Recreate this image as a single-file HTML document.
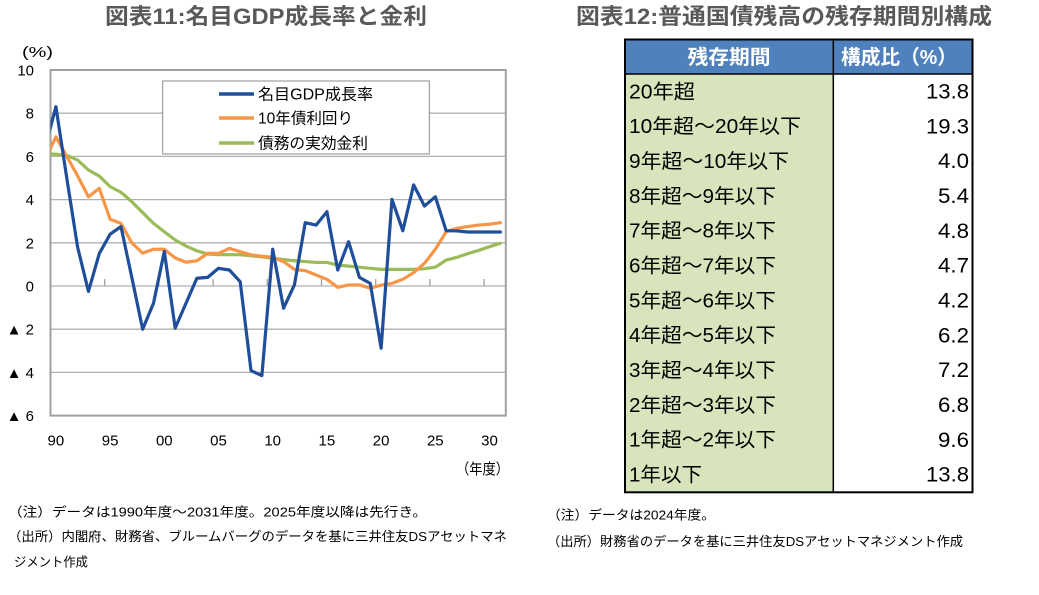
<!DOCTYPE html>
<html>
<head>
<meta charset="utf-8">
<style>
  html,body{margin:0;padding:0;background:#fff;}
  body{width:1039px;height:595px;overflow:hidden;}
  svg{display:block;}
  text{font-family:"Liberation Sans","Noto Sans CJK JP",sans-serif;}
</style>
</head>
<body>
<svg width="1039" height="595" viewBox="0 0 1039 595" xmlns="http://www.w3.org/2000/svg">
  <defs>
    <clipPath id="plotclip"><rect x="50.5" y="69" width="455.3" height="348"/></clipPath>
  </defs>

  <!-- Titles -->
  <text x="105" y="24" font-size="22" font-weight="bold" fill="#595959" textLength="322" lengthAdjust="spacingAndGlyphs">図表11:名目GDP成長率と金利</text>
  <text x="576" y="24" font-size="22" font-weight="bold" fill="#595959" textLength="416" lengthAdjust="spacingAndGlyphs">図表12:普通国債残高の残存期間別構成</text>

  <!-- Gridlines -->
  <g stroke="#B0B0B0" stroke-width="1.3">
    <line x1="50.5" y1="113.2" x2="505.8" y2="113.2"/>
    <line x1="50.5" y1="156.4" x2="505.8" y2="156.4"/>
    <line x1="50.5" y1="199.6" x2="505.8" y2="199.6"/>
    <line x1="50.5" y1="242.8" x2="505.8" y2="242.8"/>
    <line x1="50.5" y1="286" x2="505.8" y2="286"/>
    <line x1="50.5" y1="329.2" x2="505.8" y2="329.2"/>
    <line x1="50.5" y1="372.4" x2="505.8" y2="372.4"/>
  </g>
  <!-- ticks -->
  <g stroke="#A0A0A0" stroke-width="1.3">
    <line x1="104.7" y1="279" x2="104.7" y2="286"/>
    <line x1="158.9" y1="279" x2="158.9" y2="286"/>
    <line x1="213.1" y1="279" x2="213.1" y2="286"/>
    <line x1="267.3" y1="279" x2="267.3" y2="286"/>
    <line x1="321.5" y1="279" x2="321.5" y2="286"/>
    <line x1="375.7" y1="279" x2="375.7" y2="286"/>
    <line x1="429.9" y1="279" x2="429.9" y2="286"/>
    <line x1="484.1" y1="279" x2="484.1" y2="286"/>
  </g>
  <!-- Plot border -->
  <rect x="50.5" y="70" width="455.3" height="345.6" fill="none" stroke="#A0A0A0" stroke-width="2"/>

  <!-- Legend -->
  <rect x="162.7" y="81" width="266.6" height="73" fill="#fff" stroke="#8C8C8C" stroke-width="1"/>
  <line x1="219" y1="94" x2="254" y2="94" stroke="#1F4E9A" stroke-width="3.5"/>
  <line x1="219" y1="118" x2="254" y2="118" stroke="#F79646" stroke-width="3.5"/>
  <line x1="219" y1="143" x2="254" y2="143" stroke="#9BBB59" stroke-width="3.5"/>
  <text x="258" y="99.5" font-size="15.5" fill="#000" textLength="115" lengthAdjust="spacingAndGlyphs">名目GDP成長率</text>
  <text x="258" y="123.5" font-size="15.5" fill="#000" textLength="95" lengthAdjust="spacingAndGlyphs">10年債利回り</text>
  <text x="258" y="148.5" font-size="15.5" fill="#000" textLength="110" lengthAdjust="spacingAndGlyphs">債務の実効金利</text>

  <!-- Series -->
  <g clip-path="url(#plotclip)">
    <g transform="translate(50.5,286) scale(10.84,-21.6)" fill="none" stroke-linejoin="round" stroke-linecap="round">
      <polyline vector-effect="non-scaling-stroke" stroke="#9BBB59" stroke-width="3.2" points="-0.5,6.12 0.5,6.1 1.5,6.05 2.5,5.83 3.5,5.37 4.5,5.09 5.5,4.6 6.5,4.34 7.5,3.9 8.5,3.4 9.5,2.9 10.5,2.51 11.5,2.13 12.5,1.85 13.5,1.63 14.5,1.48 15.5,1.45 16.5,1.45 17.5,1.45 18.5,1.4 19.5,1.35 20.5,1.28 21.5,1.22 22.5,1.17 23.5,1.13 24.5,1.09 25.5,1.09 26.5,0.97 27.5,0.92 28.5,0.87 29.5,0.82 30.5,0.77 31.5,0.77 32.5,0.77 33.5,0.77 34.5,0.8 35.5,0.87 36.5,1.2 37.5,1.33 38.5,1.5 39.5,1.65 40.5,1.82 41.5,1.98"/>
      <polyline vector-effect="non-scaling-stroke" stroke="#F79646" stroke-width="3.2" points="-0.5,5.85 0.5,6.9 1.5,6.0 2.5,5.1 3.5,4.13 4.5,4.52 5.5,3.09 6.5,2.9 7.5,2.0 8.5,1.52 9.5,1.7 10.5,1.7 11.5,1.3 12.5,1.1 13.5,1.17 14.5,1.51 15.5,1.51 16.5,1.74 17.5,1.59 18.5,1.44 19.5,1.38 20.5,1.33 21.5,1.13 22.5,0.77 23.5,0.71 24.5,0.51 25.5,0.31 26.5,-0.06 27.5,0.05 28.5,0.05 29.5,-0.1 30.5,0.04 31.5,0.12 32.5,0.31 33.5,0.62 34.5,1.05 35.5,1.7 36.5,2.51 37.5,2.67 38.5,2.75 39.5,2.82 40.5,2.86 41.5,2.93"/>
      <polyline vector-effect="non-scaling-stroke" stroke="#1F4E9A" stroke-width="3.2" points="-0.5,6.4 0.5,8.3 1.5,5.0 2.5,1.8 3.5,-0.25 4.5,1.5 5.5,2.4 6.5,2.75 7.5,0.4 8.5,-2.0 9.5,-0.8 10.5,1.6 11.5,-1.95 12.5,-0.8 13.5,0.36 14.5,0.4 15.5,0.82 16.5,0.74 17.5,0.2 18.5,-3.92 19.5,-4.15 20.5,1.7 21.5,-1.03 22.5,0.05 23.5,2.93 24.5,2.82 25.5,3.44 26.5,0.74 27.5,2.05 28.5,0.4 29.5,0.12 30.5,-2.88 31.5,4.01 32.5,2.56 33.5,4.68 34.5,3.7 35.5,4.13 36.5,2.56 37.5,2.55 38.5,2.5 39.5,2.5 40.5,2.5 41.5,2.5"/>
    </g>
  </g>

  <!-- Y axis labels -->
  <g font-size="15" fill="#000" text-anchor="end">
    <text x="34" y="75.5">10</text>
    <text x="34" y="118.7">8</text>
    <text x="34" y="161.9">6</text>
    <text x="34" y="205.1">4</text>
    <text x="34" y="248.3">2</text>
    <text x="34" y="291.5">0</text>
    <text x="34" y="334.7">▲ 2</text>
    <text x="34" y="377.9">▲ 4</text>
    <text x="34" y="421.1">▲ 6</text>
  </g>
  <text x="22" y="57" font-size="15" fill="#000" textLength="31" lengthAdjust="spacingAndGlyphs">(%)</text>

  <!-- X axis labels -->
  <g font-size="15" fill="#000" text-anchor="middle">
    <text x="55.9" y="445.5">90</text>
    <text x="110.1" y="445.5">95</text>
    <text x="164.3" y="445.5">00</text>
    <text x="218.5" y="445.5">05</text>
    <text x="272.7" y="445.5">10</text>
    <text x="326.9" y="445.5">15</text>
    <text x="381.1" y="445.5">20</text>
    <text x="435.3" y="445.5">25</text>
    <text x="489.5" y="445.5">30</text>
  </g>
  <text x="456" y="474" font-size="15" fill="#000" textLength="53" lengthAdjust="spacingAndGlyphs">（年度）</text>

  <!-- Left notes -->
  <g font-size="13" fill="#000">
    <text x="8" y="516.5" textLength="419" lengthAdjust="spacingAndGlyphs">（注）データは1990年度～2031年度。2025年度以降は先行き。</text>
    <text x="8" y="541" textLength="499" lengthAdjust="spacingAndGlyphs">（出所）内閣府、財務省、ブルームバーグのデータを基に三井住友DSアセットマネ</text>
    <text x="14" y="566.5" textLength="74" lengthAdjust="spacingAndGlyphs">ジメント作成</text>
  </g>

  <!-- Table -->
  <rect x="625" y="40" width="208.3" height="34" fill="#4F81BD"/>
  <rect x="833.3" y="40" width="139.2" height="34" fill="#4F81BD"/>
  <rect x="625" y="74" width="208.3" height="418.3" fill="#D8E4BC"/>
  <rect x="833.3" y="74" width="139.2" height="418.3" fill="#FFFFFF"/>
  <g stroke="#000" fill="none">
    <rect x="625" y="39.5" width="347.5" height="452.8" stroke-width="2"/>
    <line x1="833.3" y1="39.5" x2="833.3" y2="492.3" stroke-width="1.5"/>
    <line x1="625" y1="74" x2="972.5" y2="74" stroke-width="1.5"/>
  </g>
  <text x="729" y="64" font-size="20" font-weight="bold" fill="#fff" text-anchor="middle" textLength="83" lengthAdjust="spacingAndGlyphs">残存期間</text>
  <text x="899" y="64" font-size="20" font-weight="bold" fill="#fff" text-anchor="middle" textLength="116" lengthAdjust="spacingAndGlyphs">構成比（%）</text>

  <g font-size="20" fill="#000">
    <text x="629" y="98.4" textLength="66" lengthAdjust="spacingAndGlyphs">20年超</text>
    <text x="629" y="133.2" textLength="172" lengthAdjust="spacingAndGlyphs">10年超～20年以下</text>
    <text x="629" y="168.0" textLength="160" lengthAdjust="spacingAndGlyphs">9年超～10年以下</text>
    <text x="629" y="202.9" textLength="147" lengthAdjust="spacingAndGlyphs">8年超～9年以下</text>
    <text x="629" y="237.7" textLength="147" lengthAdjust="spacingAndGlyphs">7年超～8年以下</text>
    <text x="629" y="272.5" textLength="147" lengthAdjust="spacingAndGlyphs">6年超～7年以下</text>
    <text x="629" y="307.3" textLength="147" lengthAdjust="spacingAndGlyphs">5年超～6年以下</text>
    <text x="629" y="342.1" textLength="147" lengthAdjust="spacingAndGlyphs">4年超～5年以下</text>
    <text x="629" y="377.0" textLength="147" lengthAdjust="spacingAndGlyphs">3年超～4年以下</text>
    <text x="629" y="411.8" textLength="147" lengthAdjust="spacingAndGlyphs">2年超～3年以下</text>
    <text x="629" y="446.6" textLength="147" lengthAdjust="spacingAndGlyphs">1年超～2年以下</text>
    <text x="629" y="481.4" textLength="73" lengthAdjust="spacingAndGlyphs">1年以下</text>
  </g>
  <g font-size="21" fill="#000" text-anchor="end">
    <text x="969" y="98.6" textLength="43" lengthAdjust="spacingAndGlyphs">13.8</text>
    <text x="969" y="133.4" textLength="43" lengthAdjust="spacingAndGlyphs">19.3</text>
    <text x="969" y="168.2" textLength="31" lengthAdjust="spacingAndGlyphs">4.0</text>
    <text x="969" y="203.1" textLength="31" lengthAdjust="spacingAndGlyphs">5.4</text>
    <text x="969" y="237.9" textLength="31" lengthAdjust="spacingAndGlyphs">4.8</text>
    <text x="969" y="272.7" textLength="31" lengthAdjust="spacingAndGlyphs">4.7</text>
    <text x="969" y="307.5" textLength="31" lengthAdjust="spacingAndGlyphs">4.2</text>
    <text x="969" y="342.3" textLength="31" lengthAdjust="spacingAndGlyphs">6.2</text>
    <text x="969" y="377.2" textLength="31" lengthAdjust="spacingAndGlyphs">7.2</text>
    <text x="969" y="412.0" textLength="31" lengthAdjust="spacingAndGlyphs">6.8</text>
    <text x="969" y="446.8" textLength="31" lengthAdjust="spacingAndGlyphs">9.6</text>
    <text x="969" y="481.6" textLength="43" lengthAdjust="spacingAndGlyphs">13.8</text>
  </g>

  <!-- Right notes -->
  <g font-size="13" fill="#000">
    <text x="547" y="519.5" textLength="168" lengthAdjust="spacingAndGlyphs">（注）データは2024年度。</text>
    <text x="547" y="546" textLength="416" lengthAdjust="spacingAndGlyphs">（出所）財務省のデータを基に三井住友DSアセットマネジメント作成</text>
  </g>
</svg>
</body>
</html>
